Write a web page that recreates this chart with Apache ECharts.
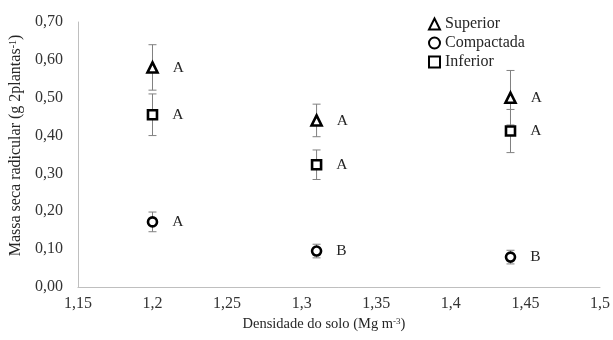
<!DOCTYPE html>
<html>
<head>
<meta charset="utf-8">
<script src="https://cdn.jsdelivr.net/npm/echarts@6/dist/echarts.min.js"></script>
<style>
html,body{margin:0;padding:0;background:#fff;}
#chart{width:613px;height:340px;}
</style>
</head>
<body>
<div id="chart"></div>
<script>
const densidade = [1.2, 1.31, 1.44];
const superior = [0.58, 0.44, 0.50];
const superiorErr = [0.06, 0.043, 0.072];
const compactada = [0.172, 0.095, 0.079];
const compactadaErr = [0.026, 0.018, 0.018];
const inferior = [0.455, 0.323, 0.412];
const inferiorErr = [0.055, 0.039, 0.057];
const letrasSuperior = ['A', 'A', 'A'];
const letrasCompactada = ['A', 'B', 'B'];
const letrasInferior = ['A', 'A', 'A'];
const seriesNames = ['Superior', 'Compactada', 'Inferior'];

const FONT = 'Liberation Serif';
const chart = echarts.init(document.getElementById('chart'), null, {renderer: 'canvas'});

function pts(vals, errs) {
  return densidade.map((x, i) => [x, vals[i], errs[i]]);
}

function errorSeries(vals, errs) {
  return {
    type: 'custom',
    silent: true,
    z: 1,
    data: pts(vals, errs),
    renderItem: function (params, api) {
      const x = api.value(0), y = api.value(1), e = api.value(2);
      const top = api.coord([x, y + e]);
      const bot = api.coord([x, y - e]);
      const w = 4;
      const style = {stroke: '#808080', lineWidth: 1};
      return {
        type: 'group',
        children: [
          {type: 'line', shape: {x1: top[0], y1: top[1], x2: bot[0], y2: bot[1]}, style: style},
          {type: 'line', shape: {x1: top[0] - w, y1: top[1], x2: top[0] + w, y2: top[1]}, style: style},
          {type: 'line', shape: {x1: bot[0] - w, y1: bot[1], x2: bot[0] + w, y2: bot[1]}, style: style}
        ]
      };
    }
  };
}

function scatterSeries(name, vals, errs, letters, symbol, size) {
  return {
    name: name,
    type: 'scatter',
    z: 3,
    symbol: symbol,
    symbolSize: size,
    data: pts(vals, errs),
    itemStyle: {color: '#ffffff', borderColor: '#000000', borderWidth: 2.6, opacity: 1},
    label: {
      show: true,
      position: 'right',
      distance: 14,
      formatter: p => letters[p.dataIndex],
      fontFamily: FONT,
      fontSize: 15.5,
      color: '#262626'
    },
    emphasis: {disabled: true}
  };
}

const option = {
  backgroundColor: '#ffffff',
  animation: false,
  grid: {left: 77, right: 13, top: 22, bottom: 53, containLabel: false},
  legend: {
    orient: 'vertical',
    left: 423,
    top: 11,
    itemWidth: 11,
    itemHeight: 11,
    itemGap: 3,
    textStyle: {fontFamily: FONT, fontSize: 16, color: '#262626', lineHeight: 15},
    data: seriesNames
  },
  xAxis: {
    type: 'value',
    min: 1.15,
    max: 1.5,
    interval: 0.05,
    name: 'Densidade do solo (Mg m{sup|-3})',
    nameLocation: 'middle',
    nameGap: 30,
    nameTextStyle: {
      fontFamily: FONT, fontSize: 14.5, color: '#262626',
      padding: [0, 30, 0, 0],
      rich: {sup: {fontFamily: FONT, fontSize: 9, color: '#262626', verticalAlign: 'top', padding: [0, 0, 6, 0]}}
    },
    axisLine: {show: true, onZero: false, lineStyle: {color: '#bfbfbf', width: 1}},
    axisTick: {show: false},
    splitLine: {show: false},
    axisLabel: {
      margin: 9,
      fontFamily: FONT, fontSize: 16, color: '#333333',
      formatter: v => String(parseFloat(v.toFixed(2))).replace('.', ',')
    }
  },
  yAxis: {
    type: 'value',
    min: 0,
    max: 0.7,
    interval: 0.1,
    name: 'Massa seca radicular (g 2plantas{sup|-1})',
    nameLocation: 'middle',
    nameGap: 47,
    nameTextStyle: {
      fontFamily: FONT, fontSize: 16, color: '#262626',
      padding: [0, 0, 0, 18],
      rich: {sup: {fontFamily: FONT, fontSize: 10, color: '#262626', verticalAlign: 'top', padding: [0, 0, 6, 0]}}
    },
    axisLine: {show: true, lineStyle: {color: '#bfbfbf', width: 1}},
    axisTick: {show: false},
    splitLine: {show: false},
    axisLabel: {
      margin: 15,
      padding: [3, 0, 0, 0],
      fontFamily: FONT, fontSize: 16, color: '#333333',
      formatter: v => v.toFixed(2).replace('.', ',')
    }
  },
  series: [
    errorSeries(superior, superiorErr),
    errorSeries(compactada, compactadaErr),
    errorSeries(inferior, inferiorErr),
    scatterSeries('Superior', superior, superiorErr, letrasSuperior, 'triangle', 10),
    scatterSeries('Compactada', compactada, compactadaErr, letrasCompactada, 'circle', 9),
    scatterSeries('Inferior', inferior, inferiorErr, letrasInferior, 'rect', 9)
  ]
};
chart.setOption(option);
</script>
</body>
</html>
